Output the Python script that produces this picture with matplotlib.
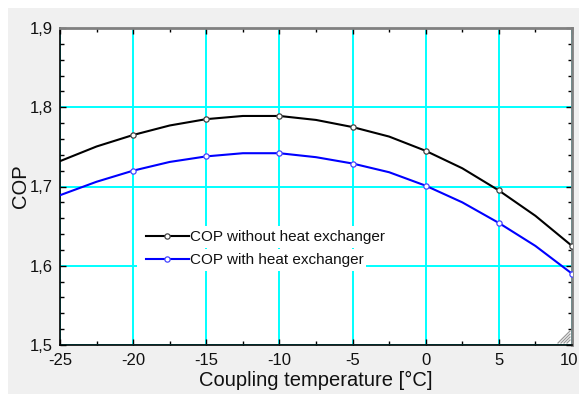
import matplotlib
matplotlib.use("Agg")
import matplotlib.pyplot as plt
from matplotlib.patches import Rectangle
from matplotlib.ticker import MultipleLocator, FuncFormatter
from matplotlib.transforms import ScaledTranslation

plt.rcParams['font.family'] = ['Liberation Sans', 'DejaVu Sans']

# Data
temperature = [-25, -22.5, -20, -17.5, -15, -12.5, -10, -7.5, -5, -2.5, 0, 2.5, 5, 7.5, 10]
cop_without = [1.732, 1.7505, 1.765, 1.777, 1.785, 1.789, 1.789, 1.784, 1.775, 1.763, 1.745, 1.723, 1.695, 1.663, 1.625]
cop_with = [1.689, 1.706, 1.720, 1.731, 1.738, 1.742, 1.742, 1.737, 1.729, 1.718, 1.701, 1.680, 1.654, 1.625, 1.590]
marker_temps = [-20, -15, -10, -5, 0, 5, 10]
label_without = "COP without heat exchanger"
label_with = "COP with heat exchanger"
xlabel = "Coupling temperature [°C]"
ylabel = "COP"

W, H = 579, 394
fig = plt.figure(figsize=(W / 100, H / 100), dpi=100)
fig.patch.set_facecolor('white')
fig.patches.append(Rectangle((8 / W, 0), 1 - 8 / W, 1 - 8 / H, transform=fig.transFigure,
                             facecolor='#f0f0f0', edgecolor='none', zorder=-10))

ax = fig.add_axes([60 / W, 1 - 345 / H, (572 - 60) / W, (345 - 28) / H])
ax.set_facecolor('white')

mark_idx = [temperature.index(t) for t in marker_temps]
ax.plot(temperature, cop_without, color='black', lw=1.5, marker='o', markevery=mark_idx,
        markersize=3.8, markerfacecolor='white', markeredgecolor='#444444', markeredgewidth=0.9,
        label=label_without, zorder=3)
ax.plot(temperature, cop_with, color='#0000ff', lw=1.5, marker='o', markevery=mark_idx,
        markersize=3.8, markerfacecolor='white', markeredgecolor='#4444ff', markeredgewidth=0.9,
        label=label_with, zorder=3)

ax.set_xlim(-25, 10)
ax.set_ylim(1.5, 1.9)
ax.xaxis.set_major_locator(MultipleLocator(5))
ax.xaxis.set_minor_locator(MultipleLocator(2.5))
ax.yaxis.set_major_locator(MultipleLocator(0.1))
ax.yaxis.set_minor_locator(MultipleLocator(0.02))
ax.yaxis.set_major_formatter(FuncFormatter(lambda v, p: f"{v:.1f}".replace('.', ',')))
ax.xaxis.set_major_formatter(FuncFormatter(lambda v, p: f"{v:.0f}"))

ax.grid(True, which='major', color='#00ffff', lw=1.4, zorder=0)
ax.set_axisbelow(True)

ax.tick_params(which='both', direction='in', top=True, right=True, color='black',
               labelsize=12, labelcolor='#111111')
ax.tick_params(which='major', length=4, width=1)
ax.tick_params(which='minor', length=3, width=1)
ax.tick_params(axis='x', pad=6)
ax.tick_params(axis='y', pad=5)

for s in ['left', 'bottom']:
    ax.spines[s].set_color('black')
    ax.spines[s].set_linewidth(1.2)
for s in ['top', 'right']:
    ax.spines[s].set_color('#808080')
    ax.spines[s].set_linewidth(2)

ax.set_xlabel(xlabel, fontsize=14.5, color='#111111', labelpad=2)
ax.set_ylabel(ylabel, fontsize=14.5, color='#111111', labelpad=0)

leg = ax.legend(loc='upper left', bbox_to_anchor=((146 - 60) / 512, (345 - 230) / 317),
                frameon=False, fontsize=11, handlelength=2.8, handletextpad=0.1,
                labelspacing=0.58, borderpad=0, borderaxespad=0)
leg.set_zorder(6)
for t in leg.get_texts():
    t.set_color('#111111')

fig.canvas.draw()
renderer = fig.canvas.get_renderer()
# keep last x tick label inside the figure
for lab in ax.get_xticklabels():
    if lab.get_text() == '10':
        lab.set_transform(lab.get_transform() + ScaledTranslation(-3 / 100, 0, fig.dpi_scale_trans))

# white backgrounds behind each legend row
inv = ax.transAxes.inverted()
for t in leg.get_texts():
    bb = t.get_window_extent(renderer)
    x0d, x1d = 137, bb.x1 + 2
    yc = (bb.y0 + bb.y1) / 2
    y0d, y1d = yc - 11, yc + 11
    (ax0, ay0) = inv.transform((x0d, y0d))
    (ax1, ay1) = inv.transform((x1d, y1d))
    ax.add_patch(Rectangle((ax0, ay0), ax1 - ax0, ay1 - ay0, transform=ax.transAxes,
                           facecolor='white', edgecolor='none', zorder=2.5))

# resize grip
for k in range(4):
    d = 3 + k * 3  # pixels
    ax.plot([1 - 2 / 512, 1 - (2 + d) / 512], [(2 + d) / 317, 2 / 317], transform=ax.transAxes,
            color='#999999', lw=0.9, clip_on=False, zorder=5)

fig.savefig('out.png', dpi=100, facecolor=fig.get_facecolor())
